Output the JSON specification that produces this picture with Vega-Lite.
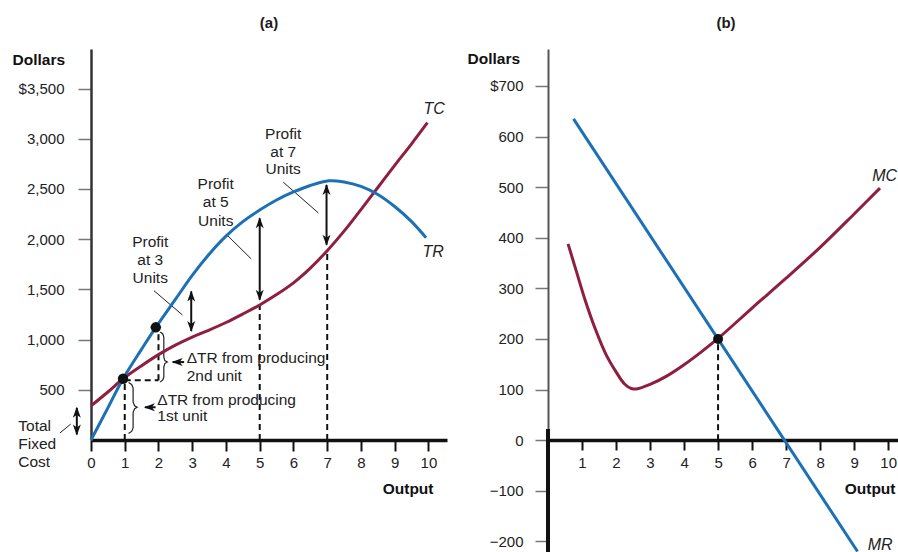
{
  "$schema": "https://vega.github.io/schema/vega-lite/v6.json",
  "padding": {"left": 12, "top": 16, "right": 0, "bottom": 0},
  "bounds": "flush",
  "spacing": 101,
  "config": {
    "font": "Liberation Sans",
    "view": {"stroke": null},
    "axis": {"grid": false}
  },
  "datasets": {
    "curvA": [
      {"s": "TR", "q": 0, "v": 0}, {"s": "TR", "q": 0.5, "v": 320}, {"s": "TR", "q": 0.95, "v": 610},
      {"s": "TR", "q": 1.5, "v": 905}, {"s": "TR", "q": 1.92, "v": 1122}, {"s": "TR", "q": 2.5, "v": 1400},
      {"s": "TR", "q": 3, "v": 1640}, {"s": "TR", "q": 3.5, "v": 1850}, {"s": "TR", "q": 4, "v": 2030},
      {"s": "TR", "q": 4.5, "v": 2175}, {"s": "TR", "q": 5, "v": 2290}, {"s": "TR", "q": 5.5, "v": 2390},
      {"s": "TR", "q": 6, "v": 2470}, {"s": "TR", "q": 6.5, "v": 2535}, {"s": "TR", "q": 7.05, "v": 2582},
      {"s": "TR", "q": 7.5, "v": 2570}, {"s": "TR", "q": 8, "v": 2525}, {"s": "TR", "q": 8.5, "v": 2445},
      {"s": "TR", "q": 9, "v": 2325}, {"s": "TR", "q": 9.5, "v": 2175}, {"s": "TR", "q": 9.93, "v": 2015},
      {"s": "TC", "q": 0, "v": 340}, {"s": "TC", "q": 0.5, "v": 478}, {"s": "TC", "q": 0.95, "v": 610},
      {"s": "TC", "q": 1.5, "v": 740}, {"s": "TC", "q": 2, "v": 850}, {"s": "TC", "q": 2.5, "v": 945},
      {"s": "TC", "q": 3, "v": 1025}, {"s": "TC", "q": 3.5, "v": 1095}, {"s": "TC", "q": 4, "v": 1170},
      {"s": "TC", "q": 4.5, "v": 1255}, {"s": "TC", "q": 5, "v": 1345}, {"s": "TC", "q": 5.5, "v": 1448},
      {"s": "TC", "q": 6, "v": 1565}, {"s": "TC", "q": 6.5, "v": 1712}, {"s": "TC", "q": 7, "v": 1885},
      {"s": "TC", "q": 7.5, "v": 2080}, {"s": "TC", "q": 8, "v": 2295}, {"s": "TC", "q": 8.5, "v": 2515},
      {"s": "TC", "q": 9, "v": 2735}, {"s": "TC", "q": 9.5, "v": 2950}, {"s": "TC", "q": 9.97, "v": 3160}
    ],
    "dashA": [
      {"q": 1, "v": 0, "q2": 1, "v2": 595},
      {"q": 1, "v": 595, "q2": 2, "v2": 595},
      {"q": 2, "v": 595, "q2": 2, "v2": 1095},
      {"q": 5, "v": 0, "q2": 5, "v2": 1345},
      {"q": 7, "v": 0, "q2": 7, "v2": 1885}
    ],
    "leadA": [
      {"q": 1.866, "v": 1487, "q2": 2.71, "v2": 1245},
      {"q": 4.0, "v": 2052, "q2": 4.75, "v2": 1803},
      {"q": 5.7, "v": 2567, "q2": 6.74, "v2": 2261},
      {"q": -0.92, "v": 70, "q2": -0.6, "v2": 159}
    ],
    "shaftA": [
      {"q": 2.97, "v": 1085, "q2": 2.97, "v2": 1480},
      {"q": 5, "v": 1397, "q2": 5, "v2": 2208},
      {"q": 6.98, "v": 1945, "q2": 6.98, "v2": 2540},
      {"q": -0.42, "v": 55, "q2": -0.42, "v2": 320},
      {"q": 2.42, "v": 776, "q2": 2.76, "v2": 776},
      {"q": 1.6, "v": 326, "q2": 1.913, "v2": 326}
    ],
    "headA": [
      {"q": 2.97, "v": 1490, "d": "up"}, {"q": 2.97, "v": 1075, "d": "down"},
      {"q": 5, "v": 2218, "d": "up"}, {"q": 5, "v": 1387, "d": "down"},
      {"q": 6.98, "v": 2550, "d": "up"}, {"q": 6.98, "v": 1935, "d": "down"},
      {"q": -0.42, "v": 330, "d": "up"}, {"q": -0.42, "v": 45, "d": "down"},
      {"q": 2.39, "v": 776, "d": "left"}, {"q": 1.567, "v": 326, "d": "left"}
    ],
    "braceA": [
      {"b": 2, "i": 0, "q": 2.054, "v": 1076}, {"b": 2, "i": 1, "q": 2.128, "v": 1056},
      {"b": 2, "i": 2, "q": 2.158, "v": 1026}, {"b": 2, "i": 3, "q": 2.158, "v": 826},
      {"b": 2, "i": 4, "q": 2.188, "v": 791}, {"b": 2, "i": 5, "q": 2.263, "v": 776},
      {"b": 2, "i": 6, "q": 2.188, "v": 761}, {"b": 2, "i": 7, "q": 2.158, "v": 726},
      {"b": 2, "i": 8, "q": 2.158, "v": 627}, {"b": 2, "i": 9, "q": 2.128, "v": 598},
      {"b": 2, "i": 10, "q": 2.054, "v": 578},
      {"b": 1, "i": 0, "q": 1.113, "v": 573}, {"b": 1, "i": 1, "q": 1.203, "v": 553},
      {"b": 1, "i": 2, "q": 1.248, "v": 518}, {"b": 1, "i": 3, "q": 1.248, "v": 376},
      {"b": 1, "i": 4, "q": 1.293, "v": 341}, {"b": 1, "i": 5, "q": 1.367, "v": 326},
      {"b": 1, "i": 6, "q": 1.293, "v": 311}, {"b": 1, "i": 7, "q": 1.248, "v": 276},
      {"b": 1, "i": 8, "q": 1.248, "v": 120}, {"b": 1, "i": 9, "q": 1.203, "v": 85},
      {"b": 1, "i": 10, "q": 1.113, "v": 65}
    ],
    "dotA": [{"q": 0.95, "v": 610}, {"q": 1.92, "v": 1122}],
    "tcA": [
      {"q": 1.755, "v": 1975, "t": "Profit"}, {"q": 1.755, "v": 1793, "t": "at 3"}, {"q": 1.755, "v": 1611, "t": "Units"},
      {"q": 3.696, "v": 2550, "t": "Profit"}, {"q": 3.696, "v": 2368, "t": "at 5"}, {"q": 3.696, "v": 2184, "t": "Units"},
      {"q": 5.696, "v": 3048, "t": "Profit"}, {"q": 5.696, "v": 2865, "t": "at 7"}, {"q": 5.696, "v": 2699, "t": "Units"}
    ],
    "tlA": [
      {"q": 2.836, "v": 814, "t": "ΔTR from producing"}, {"q": 2.836, "v": 641, "t": "2nd unit"},
      {"q": 1.964, "v": 401, "t": "ΔTR from producing"}, {"q": 1.964, "v": 236, "t": "1st unit"},
      {"q": -2.155, "v": 142, "t": "Total"}, {"q": -2.155, "v": -40, "t": "Fixed"}, {"q": -2.155, "v": -216, "t": "Cost"}
    ],
    "tiA": [{"q": 10.17, "v": 3297, "t": "TC"}, {"q": 10.14, "v": 1873, "t": "TR"}],
    "curvB": [
      {"s": "MR", "q": 0.75, "v": 635}, {"s": "MR", "q": 9.1, "v": -220},
      {"s": "MC", "q": 0.59, "v": 388}, {"s": "MC", "q": 0.85, "v": 330}, {"s": "MC", "q": 1.1, "v": 275},
      {"s": "MC", "q": 1.4, "v": 218}, {"s": "MC", "q": 1.7, "v": 170}, {"s": "MC", "q": 2.0, "v": 135},
      {"s": "MC", "q": 2.25, "v": 111}, {"s": "MC", "q": 2.45, "v": 102}, {"s": "MC", "q": 2.6, "v": 101},
      {"s": "MC", "q": 3.0, "v": 110}, {"s": "MC", "q": 3.5, "v": 127}, {"s": "MC", "q": 4.0, "v": 149},
      {"s": "MC", "q": 4.5, "v": 174}, {"s": "MC", "q": 5.0, "v": 201}, {"s": "MC", "q": 6.0, "v": 261},
      {"s": "MC", "q": 7.0, "v": 320}, {"s": "MC", "q": 8.0, "v": 381}, {"s": "MC", "q": 9.0, "v": 447},
      {"s": "MC", "q": 9.76, "v": 498}
    ],
    "dashB": [{"q": 5, "v": 0, "q2": 5, "v2": 200}],
    "axB": [{"q": 0, "v": 22, "q2": 0, "v2": -227}],
    "dotB": [{"q": 5, "v": 200}],
    "tiB": [{"q": 9.53, "v": 523, "t": "MC"}, {"q": 9.4, "v": -208, "t": "MR"}]
  },
  "hconcat": [
    {
      "width": 356,
      "height": 391,
      "title": {"text": "(a)", "fontSize": 15, "fontWeight": "bold", "offset": 18, "color": "#1a1a1a", "anchor": "middle"},
      "encoding": {
        "x": {
          "field": "q", "type": "quantitative",
          "scale": {"domain": [0, 10.55], "nice": false, "zero": false},
          "axis": {
            "values": [0, 1, 2, 3, 4, 5, 6, 7, 8, 9, 10],
            "labelFlush": false, "tickSize": 11, "tickWidth": 2, "tickColor": "#111",
            "domainColor": "#111", "domainWidth": 3.5, "labelFontSize": 15, "labelColor": "#222",
            "labelPadding": 4, "title": "Output", "titleFontSize": 15.5, "titleFontWeight": "bold",
            "titleColor": "#111", "titleAlign": "right", "titleBaseline": "middle", "titleX": 342, "titleY": 48
          }
        },
        "y": {
          "field": "v", "type": "quantitative",
          "scale": {"domain": [0, 3894], "nice": false, "zero": false},
          "axis": {
            "values": [500, 1000, 1500, 2000, 2500, 3000, 3500], "format": ",d",
            "labelExpr": "datum.value == 3500 ? '$3,500' : datum.label",
            "tickSize": 13, "tickWidth": 1.5, "tickColor": "#777",
            "domainColor": "#333", "domainWidth": 2.5, "labelFontSize": 15, "labelColor": "#222",
            "labelPadding": 14, "title": "Dollars", "titleAngle": 0, "titleAlign": "left",
            "titleBaseline": "middle", "titleX": -79, "titleY": 10, "titleFontSize": 15.5,
            "titleFontWeight": "bold", "titleColor": "#111"
          }
        }
      },
      "layer": [
        {
          "data": {"name": "dashA"},
          "mark": {"type": "rule", "strokeDash": [6, 4], "strokeWidth": 2, "color": "#111"},
          "encoding": {"x2": {"field": "q2"}, "y2": {"field": "v2"}}
        },
        {
          "data": {"name": "leadA"},
          "mark": {"type": "rule", "strokeWidth": 1, "color": "#222"},
          "encoding": {"x2": {"field": "q2"}, "y2": {"field": "v2"}}
        },
        {
          "data": {"name": "braceA"},
          "mark": {"type": "line", "strokeWidth": 1.2, "color": "#222"},
          "encoding": {"detail": {"field": "b", "type": "nominal"}, "order": {"field": "i", "type": "quantitative"}}
        },
        {
          "data": {"name": "curvA"},
          "transform": [{"filter": "datum.s == 'TC'"}],
          "mark": {"type": "line", "interpolate": "catmull-rom", "strokeWidth": 3, "color": "#8e1f41"},
          "encoding": {}
        },
        {
          "data": {"name": "curvA"},
          "transform": [{"filter": "datum.s == 'TR'"}],
          "mark": {"type": "line", "interpolate": "catmull-rom", "strokeWidth": 3, "color": "#1c70b5"},
          "encoding": {}
        },
        {
          "data": {"name": "shaftA"},
          "mark": {"type": "rule", "strokeWidth": 2, "color": "#111"},
          "encoding": {"x2": {"field": "q2"}, "y2": {"field": "v2"}}
        },
        {
          "data": {"name": "headA"},
          "mark": {"type": "point", "filled": true, "size": 100, "color": "#111", "opacity": 1, "strokeWidth": 0},
          "encoding": {
            "shape": {
              "field": "d", "type": "nominal", "legend": null,
              "scale": {
                "domain": ["up", "down", "left"],
                "range": ["M0,0L0.8,2.2L0,1.6L-0.8,2.2Z", "M0,0L0.8,-2.2L0,-1.6L-0.8,-2.2Z", "M0,0L2.2,-0.8L1.6,0L2.2,0.8Z"]
              }
            }
          }
        },
        {
          "data": {"name": "dotA"},
          "mark": {"type": "point", "filled": true, "size": 110, "color": "#111", "opacity": 1, "strokeWidth": 0}
        },
        {
          "data": {"name": "tcA"},
          "mark": {"type": "text", "align": "center", "baseline": "middle", "fontSize": 15.5, "color": "#222"},
          "encoding": {"text": {"field": "t"}}
        },
        {
          "data": {"name": "tlA"},
          "mark": {"type": "text", "align": "left", "baseline": "middle", "fontSize": 15.5, "color": "#222"},
          "encoding": {"text": {"field": "t"}}
        },
        {
          "data": {"name": "tiA"},
          "mark": {"type": "text", "align": "center", "baseline": "middle", "fontSize": 16, "fontStyle": "italic", "color": "#222"},
          "encoding": {"text": {"field": "t"}}
        }
      ]
    },
    {
      "width": 350,
      "height": 506,
      "title": {"text": "(b)", "fontSize": 15, "fontWeight": "bold", "offset": 18, "color": "#1a1a1a", "anchor": "middle", "dx": 3},
      "encoding": {
        "x": {
          "field": "q", "type": "quantitative",
          "scale": {"domain": [0, 10.29], "nice": false, "zero": false},
          "axis": {
            "values": [1, 2, 3, 4, 5, 6, 7, 8, 9, 10], "offset": -115,
            "labelFlush": false, "tickSize": 10, "tickWidth": 2, "tickColor": "#111",
            "domainColor": "#111", "domainWidth": 3.5, "labelFontSize": 15, "labelColor": "#222",
            "labelPadding": 5, "title": "Output", "titleFontSize": 15.5, "titleFontWeight": "bold",
            "titleColor": "#111", "titleAlign": "right", "titleBaseline": "middle", "titleX": 347, "titleY": 48
          }
        },
        "y": {
          "field": "v", "type": "quantitative",
          "scale": {"domain": [-227, 773], "nice": false, "zero": false},
          "axis": {
            "values": [-200, -100, 0, 100, 200, 300, 400, 500, 600, 700],
            "labelExpr": "datum.value == 700 ? '$700' : datum.label",
            "tickSize": 13, "tickWidth": 1.5, "tickColor": "#777",
            "domainColor": "#555", "domainWidth": 2, "labelFontSize": 15, "labelColor": "#222",
            "labelPadding": 12, "title": "Dollars", "titleAngle": 0, "titleAlign": "left",
            "titleBaseline": "middle", "titleX": -81, "titleY": 9, "titleFontSize": 15.5,
            "titleFontWeight": "bold", "titleColor": "#111"
          }
        }
      },
      "layer": [
        {
          "data": {"name": "axB"},
          "mark": {"type": "rule", "strokeWidth": 4, "color": "#111"},
          "encoding": {"x2": {"field": "q2"}, "y2": {"field": "v2"}}
        },
        {
          "data": {"name": "dashB"},
          "mark": {"type": "rule", "strokeDash": [6, 4], "strokeWidth": 2, "color": "#111"},
          "encoding": {"x2": {"field": "q2"}, "y2": {"field": "v2"}}
        },
        {
          "data": {"name": "curvB"},
          "transform": [{"filter": "datum.s == 'MC'"}],
          "mark": {"type": "line", "interpolate": "catmull-rom", "strokeWidth": 3, "color": "#8e1f41"},
          "encoding": {}
        },
        {
          "data": {"name": "curvB"},
          "transform": [{"filter": "datum.s == 'MR'"}],
          "mark": {"type": "line", "strokeWidth": 3, "color": "#1c70b5"},
          "encoding": {}
        },
        {
          "data": {"name": "dotB"},
          "mark": {"type": "point", "filled": true, "size": 100, "color": "#111", "opacity": 1, "strokeWidth": 0}
        },
        {
          "data": {"name": "tiB"},
          "mark": {"type": "text", "align": "left", "baseline": "middle", "fontSize": 16, "fontStyle": "italic", "color": "#222"},
          "encoding": {"text": {"field": "t"}}
        }
      ]
    }
  ]
}
